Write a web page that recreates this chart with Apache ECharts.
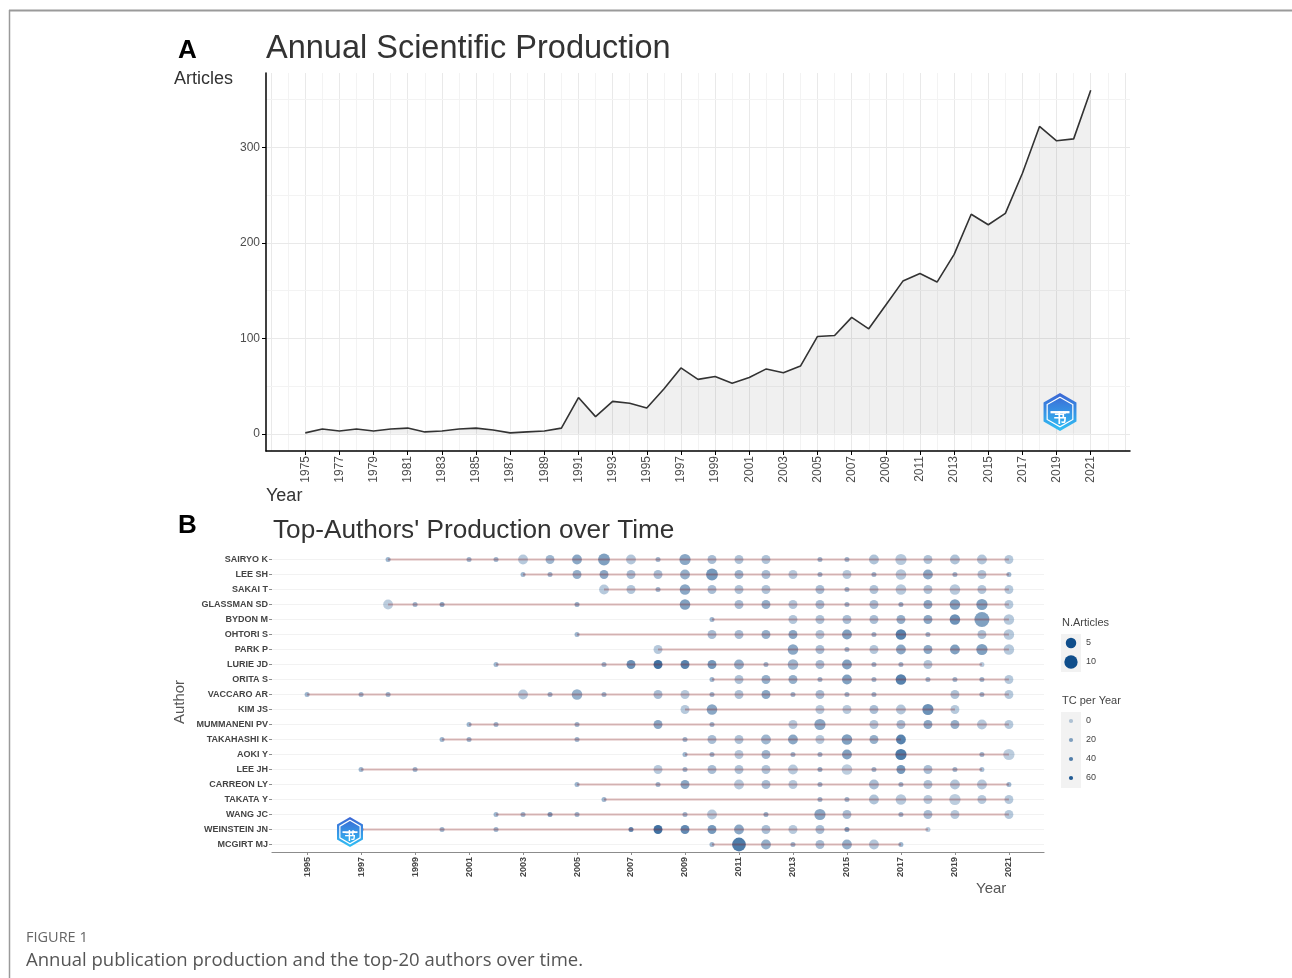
<!DOCTYPE html>
<html><head><meta charset="utf-8">
<script src="https://cdn.jsdelivr.net/npm/echarts@6/dist/echarts.min.js"></script>
<style>html,body{margin:0;padding:0;background:#fff;}#c{width:1292px;height:978px;}</style>
</head><body><div id="c"></div>
<script>
// ---------- Panel A data ----------
const prodYears = [1975,1976,1977,1978,1979,1980,1981,1982,1983,1984,1985,1986,1987,1988,1989,1990,1991,1992,1993,1994,1995,1996,1997,1998,1999,2000,2001,2002,2003,2004,2005,2006,2007,2008,2009,2010,2011,2012,2013,2014,2015,2016,2017,2018,2019,2020,2021];
const prodArticles = [1,5,3,5,3,5,6,2,3,5,6,4,1,2,3,6,38,18,34,32,27,47,69,57,60,53,59,68,64,71,102,103,122,110,135,160,168,159,188,230,219,231,273,322,307,309,360];
const prodXTicks = [1975,1977,1979,1981,1983,1985,1987,1989,1991,1993,1995,1997,1999,2001,2003,2005,2007,2009,2011,2013,2015,2017,2019,2021];
const prodYTicks = [0,100,200,300];

// ---------- Panel B data ----------
const authors = ['SAIRYO K','LEE SH','SAKAI T','GLASSMAN SD','BYDON M','OHTORI S','PARK P','LURIE JD','ORITA S','VACCARO AR','KIM JS','MUMMANENI PV','TAKAHASHI K','AOKI Y','LEE JH','CARREON LY','TAKATA Y','WANG JC','WEINSTEIN JN','MCGIRT MJ'];
const authorYears = [
 [1998,2001,2002,2003,2004,2005,2006,2007,2008,2009,2010,2011,2012,2014,2015,2016,2017,2018,2019,2020,2021],
 [2003,2004,2005,2006,2007,2008,2009,2010,2011,2012,2013,2014,2015,2016,2017,2018,2019,2020,2021],
 [2006,2007,2008,2009,2010,2011,2012,2014,2015,2016,2017,2018,2019,2020,2021],
 [1998,1999,2000,2005,2009,2011,2012,2013,2014,2015,2016,2017,2018,2019,2020,2021],
 [2010,2013,2014,2015,2016,2017,2018,2019,2020,2021],
 [2005,2010,2011,2012,2013,2014,2015,2016,2017,2018,2020,2021],
 [2008,2013,2014,2015,2016,2017,2018,2019,2020,2021],
 [2002,2006,2007,2008,2009,2010,2011,2012,2013,2014,2015,2016,2017,2018,2020],
 [2010,2011,2012,2013,2014,2015,2016,2017,2018,2019,2020,2021],
 [1995,1997,1998,2003,2004,2005,2006,2008,2009,2010,2011,2012,2013,2014,2015,2016,2019,2020,2021],
 [2009,2010,2014,2015,2016,2017,2018,2019],
 [2001,2002,2005,2008,2010,2013,2014,2016,2017,2018,2019,2020,2021],
 [2000,2001,2005,2009,2010,2011,2012,2013,2014,2015,2016,2017],
 [2009,2010,2011,2012,2013,2014,2015,2017,2020,2021],
 [1997,1999,2008,2009,2010,2011,2012,2013,2014,2015,2016,2017,2018,2019,2020],
 [2005,2008,2009,2011,2012,2013,2014,2016,2017,2018,2019,2020,2021],
 [2006,2014,2015,2016,2017,2018,2019,2020,2021],
 [2002,2003,2004,2005,2009,2010,2012,2014,2015,2017,2018,2019,2021],
 [1997,2000,2002,2007,2008,2009,2010,2011,2012,2013,2014,2015,2018],
 [2010,2011,2012,2013,2014,2015,2016,2017]
];
const authorArticles = [
 [1,1,1,4,3,4,7,4,1,6,3,3,3,1,1,4,6,3,4,4,3],
 [1,1,3,3,3,3,4,7,3,3,3,1,3,1,5,4,1,3,1],
 [4,3,1,5,3,3,3,3,1,3,5,3,5,3,3],
 [4,1,1,1,5,3,3,3,3,1,3,1,3,5,6,3],
 [1,3,3,3,3,3,3,5,14,5],
 [1,3,3,3,3,3,4,1,5,1,3,5],
 [3,5,3,1,3,4,3,4,6,5],
 [1,1,3,3,3,3,4,1,5,3,4,1,1,3,1],
 [1,3,3,3,1,4,1,5,1,1,1,3],
 [1,1,1,4,1,5,1,3,3,1,3,3,1,3,1,1,3,1,3],
 [3,5,3,3,3,4,6,3],
 [1,1,1,3,1,3,6,3,3,3,3,4,3],
 [1,1,1,1,3,3,4,4,3,5,3,4],
 [1,1,3,3,1,1,4,6,1,6],
 [1,1,3,1,3,3,3,4,1,5,1,3,3,1,1],
 [1,1,3,4,3,3,1,4,1,3,4,4,1],
 [1,1,1,4,5,3,6,3,3],
 [1,1,1,1,1,4,1,6,3,1,3,3,3],
 [1,1,1,1,3,3,3,4,3,3,3,1,1],
 [1,11,4,1,3,4,4,1]
];
const authorTC = [
 [20,20,20,8,20,30,35,10,20,30,15,12,12,20,20,12,8,12,12,10,8],
 [20,20,25,30,15,15,25,40,20,15,8,20,8,20,8,30,20,10,20],
 [8,10,20,30,15,12,12,15,20,12,8,12,8,10,8],
 [5,20,30,25,35,15,25,10,15,20,15,25,30,35,35,8],
 [20,10,12,15,15,25,30,45,35,8],
 [20,15,15,25,30,10,35,20,55,20,12,8],
 [8,30,15,20,10,30,30,35,35,8],
 [20,20,45,67,55,40,25,20,20,15,35,20,20,10,8],
 [20,12,25,25,20,35,20,55,20,20,20,8],
 [20,20,20,10,20,25,20,15,8,20,12,30,20,15,20,20,12,20,8],
 [8,30,8,8,15,10,45,8],
 [20,20,20,30,20,8,30,10,15,30,25,8,8],
 [20,20,20,20,15,12,20,30,8,35,25,55],
 [20,20,8,20,20,20,35,60,20,5],
 [20,20,8,20,15,12,12,8,25,5,20,40,15,20,15],
 [20,20,30,8,15,8,20,15,20,12,10,8,20],
 [20,20,20,12,8,8,5,8,8],
 [20,20,35,20,20,8,25,30,15,20,15,8,8],
 [20,20,20,50,67,50,40,30,15,8,15,35,8],
 [20,60,25,20,15,25,10,20]
];
const timeTicks = [1995,1997,1999,2001,2003,2005,2007,2009,2011,2013,2015,2017,2019,2021];
const sizeBreaks = [5,10];
const tcBreaks = [0,20,40,60];

// ---------- build ----------
const FONT = "'Liberation Sans', Arial, sans-serif";
const allN = authorArticles.flat(), allTC = authorTC.flat();
const nMin = Math.min(...allN), nMax = Math.max(...allN);
const tcMin = 0, tcMax = Math.max(...allTC);
function dotSize(n){ return 2.5*(2+4*Math.sqrt(Math.max(0,(n-nMin))/(nMax-nMin))); }
function tcAlpha(t){ return 0.3+0.7*(t-tcMin)/(tcMax-tcMin); }
const dotColor = '#104E8B';

// Panel A grid lines (through axis scale)
const gridLinesA = [];
for (let y = 1973; y <= 2023; y++) gridLinesA.push({xAxis: y, lineStyle:{color: y%2===1 ? '#e9e9e9' : '#f3f3f3', width:1, type:'solid'}});
for (let v = 0; v <= 350; v += 50) gridLinesA.push({yAxis: v, lineStyle:{color: v%100===0 ? '#e9e9e9' : '#f3f3f3', width:1, type:'solid'}});

const series = [];
series.push({
  type:'line', xAxisIndex:0, yAxisIndex:0, z:3,
  data: prodYears.map((y,i)=>[y, prodArticles[i]]),
  showSymbol:false, symbol:'none', silent:true,
  lineStyle:{color:'#333', width:1.6},
  areaStyle:{color:'#000', opacity:0.06, origin:0},
  markLine:{silent:true, symbol:['none','none'], z:1, label:{show:false}, emphasis:{disabled:true}, animation:false, data:gridLinesA}
});
// panel B row gridlines holder
series.push({
  type:'line', xAxisIndex:1, yAxisIndex:1, z:1, data:[[1995, authors[0]]], symbol:'none', lineStyle:{opacity:0}, silent:true,
  markLine:{silent:true, symbol:['none','none'], z:1, label:{show:false}, emphasis:{disabled:true}, animation:false,
    data: authors.map(a=>({yAxis:a, lineStyle:{color:'#f2f2f2', width:1, type:'solid'}}))}
});
const scatterData = [];
authors.forEach((a,i)=>{ authorYears[i].forEach((y,j)=>{ scatterData.push([y, a, authorArticles[i][j], authorTC[i][j]]); }); });
const scatterIndex = series.length;
series.push({
  type:'scatter', xAxisIndex:1, yAxisIndex:1, z:3, silent:true,
  data: scatterData, encode:{x:0, y:1},
  symbolSize: v => dotSize(v[2]),
  itemStyle:{color: dotColor, borderWidth:0}
});
authors.forEach((a,i)=>{
  const ys = authorYears[i];
  series.push({type:'line', xAxisIndex:1, yAxisIndex:1, z:4, silent:true, symbol:'none',
    data:[[Math.min(...ys), a],[Math.max(...ys), a]],
    lineStyle:{color:'rgba(139,26,26,0.3)', width:2}});
});

// logo hexagon helper
function hexagon(cx, cy, r){
  const pts=[]; for(let k=0;k<6;k++){const ang=Math.PI/180*(60*k-90); pts.push([cx+r*Math.cos(ang), cy+r*Math.sin(ang)]);} return pts;
}
function logo(cx, cy, r){
  return [
    {type:'polygon', shape:{points:hexagon(cx,cy,r)}, style:{fill:new echarts.graphic.LinearGradient(0,0,0,1,[{offset:0,color:'#3c66d4'},{offset:1,color:'#30c0f5'}])}, z:50},
    {type:'polygon', shape:{points:hexagon(cx,cy,r*0.78)}, style:{fill:'none', stroke:'#ffffff', lineWidth:1.2}, z:51},
    {type:'rect', shape:{x:cx-r*0.5, y:cy-r*0.05, width:r, height:r*0.12}, style:{fill:'#ffffff'}, z:51},
    {type:'text', style:{x:cx, y:cy+r*0.25, text:'书', fill:'#ffffff', font:'bold '+Math.round(r*0.7)+'px "Noto Sans CJK SC"', align:'center', verticalAlign:'middle'}, z:52}
  ];
}

const graphics = [
  {type:'line', shape:{x1:9, y1:10.5, x2:1292, y2:10.5}, style:{stroke:'#9a9a9a', lineWidth:2}},
  {type:'line', shape:{x1:9.5, y1:10, x2:9.5, y2:978}, style:{stroke:'#9a9a9a', lineWidth:1.5}},
  {type:'text', style:{x:178, y:38, text:'A', fill:'#000', font:'bold 26px '+FONT}},
  {type:'text', style:{x:266, y:33, text:'Annual Scientific Production', fill:'#333', font:'32.5px '+FONT}},
  {type:'text', style:{x:174, y:70, text:'Articles', fill:'#333', font:'18px '+FONT}},
  {type:'text', style:{x:266, y:487, text:'Year', fill:'#333', font:'18px '+FONT}},
  {type:'text', style:{x:178, y:513, text:'B', fill:'#000', font:'bold 26px '+FONT}},
  {type:'text', style:{x:273, y:518, text:"Top-Authors' Production over Time", fill:'#333', font:'26.2px '+FONT}},
  {type:'text', x:180, y:702, rotation:Math.PI/2, style:{x:0, y:0, text:'Author', fill:'#555', font:'15px '+FONT, align:'center', verticalAlign:'middle'}},
  {type:'text', style:{x:976, y:881, text:'Year', fill:'#555', font:'15px '+FONT}},
  {type:'text', style:{x:1062, y:617, text:'N.Articles', fill:'#444', font:'11px '+FONT}},
  {type:'rect', shape:{x:1061, y:634, width:20, height:38}, style:{fill:'#f2f2f2'}},
  {type:'text', style:{x:1062, y:695, text:'TC per Year', fill:'#444', font:'11px '+FONT}},
  {type:'rect', shape:{x:1061, y:712, width:20, height:76}, style:{fill:'#f2f2f2'}},
  {type:'text', style:{x:26, y:930, text:'FIGURE 1', fill:'#666', font:'14.5px "Open Sans", sans-serif'}},
  {type:'text', style:{x:26, y:951, text:'Annual publication production and the top-20 authors over time.', fill:'#555', font:'18.5px "Open Sans", sans-serif'}}
];
sizeBreaks.forEach((b,k)=>{
  const cy = 643 + k*19;
  graphics.push({type:'circle', shape:{cx:1071, cy:cy, r:dotSize(b)/2}, style:{fill:dotColor}});
  graphics.push({type:'text', style:{x:1086, y:cy, text:String(b), fill:'#444', font:'9px '+FONT, verticalAlign:'middle'}});
});
tcBreaks.forEach((b,k)=>{
  const cy = 721 + k*19;
  graphics.push({type:'circle', shape:{cx:1071, cy:cy, r:2.1}, style:{fill:dotColor, opacity:tcAlpha(b)}});
  graphics.push({type:'text', style:{x:1086, y:cy, text:String(b), fill:'#444', font:'9px '+FONT, verticalAlign:'middle'}});
});
logo(1060, 412, 19).forEach(g=>graphics.push(g));
logo(350, 832, 15).forEach(g=>graphics.push(g));

const option = {
  animation:false,
  backgroundColor:'#fff',
  textStyle:{fontFamily:FONT},
  grid:[
    {left:266, right:162, top:73, height:378, containLabel:false, outerBoundsMode:'none'},
    {left:272, right:248, top:552, height:300, containLabel:false, outerBoundsMode:'none'}
  ],
  xAxis:[
    {type:'value', gridIndex:0, min:1972.7, max:2023.3, z:10,
     axisLine:{show:true, onZero:false, lineStyle:{color:'#000', width:1.5}},
     axisTick:{show:true, length:4, lineStyle:{color:'#000'}, customValues:prodXTicks},
     axisLabel:{show:true, rotate:90, fontSize:12, color:'#4d4d4d', margin:5, customValues:prodXTicks, formatter: v=>String(v)},
     splitLine:{show:false}, minorSplitLine:{show:false}},
    {type:'value', gridIndex:1, min:1993.7, max:2022.3, z:10,
     axisLine:{show:true, onZero:false, lineStyle:{color:'#8c8c8c', width:1.2}},
     axisTick:{show:true, length:3, lineStyle:{color:'#8c8c8c'}, customValues:timeTicks},
     axisLabel:{show:true, rotate:90, fontSize:9, fontWeight:'bold', color:'#444', margin:5, customValues:timeTicks, formatter: v=>String(v)},
     splitLine:{show:false}}
  ],
  yAxis:[
    {type:'value', gridIndex:0, min:-18, max:378, z:10,
     axisLine:{show:true, onZero:false, lineStyle:{color:'#000', width:1.5}},
     axisTick:{show:true, length:4, lineStyle:{color:'#000'}, customValues:prodYTicks},
     axisLabel:{show:true, fontSize:12, color:'#4d4d4d', margin:6, customValues:prodYTicks, formatter: v=>String(v)},
     splitLine:{show:false}},
    {type:'category', gridIndex:1, data:authors, inverse:true, z:10,
     axisLine:{show:false},
     axisTick:{show:true, length:3, alignWithLabel:true, lineStyle:{color:'#8c8c8c'}},
     axisLabel:{show:true, fontSize:9, fontWeight:'bold', color:'#444', margin:4, interval:0},
     splitLine:{show:false}}
  ],
  visualMap:[{type:'continuous', show:false, seriesIndex:scatterIndex, dimension:3, min:tcMin, max:tcMax, inRange:{colorAlpha:[0.3,1]}}],
  series: series,
  graphic: graphics
};
const chart = echarts.init(document.getElementById('c'), null, {renderer:'canvas'});
chart.setOption(option);
</script></body></html>
